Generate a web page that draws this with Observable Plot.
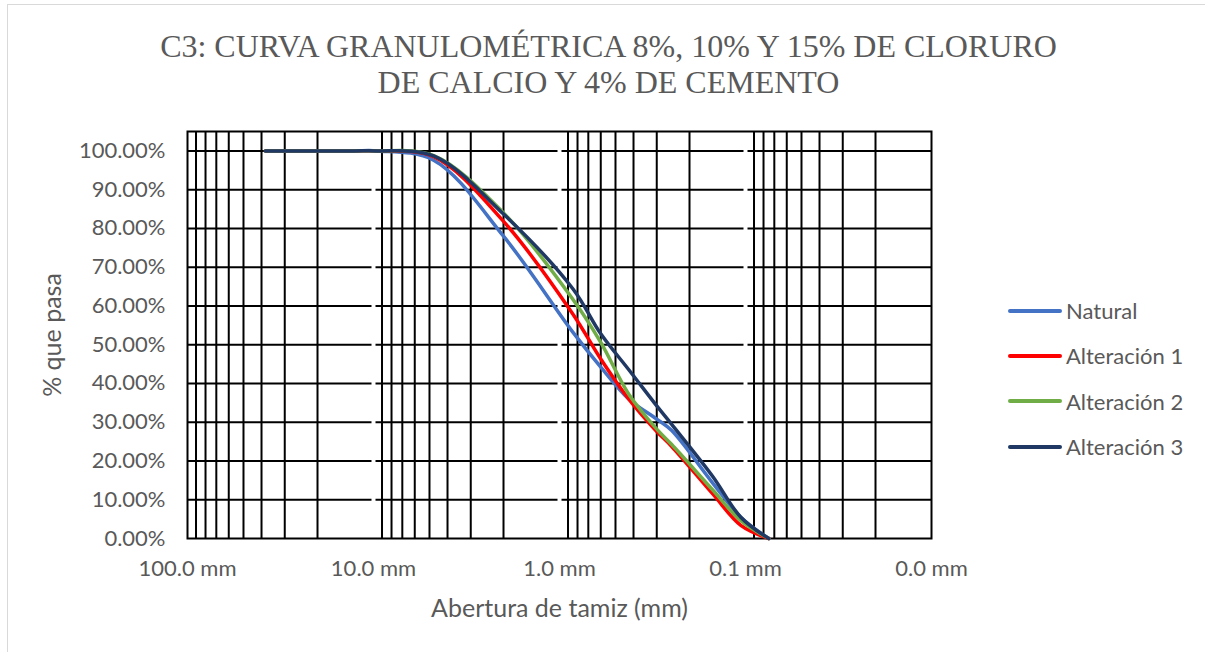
<!DOCTYPE html>
<html>
<head>
<meta charset="utf-8">
<script src="https://cdn.jsdelivr.net/npm/d3@7"></script>
<script src="https://cdn.jsdelivr.net/npm/@observablehq/plot@0.6"></script>
<style>
  html, body { margin: 0; padding: 0; background: #fff; }
  #wrap { position: relative; width: 1205px; height: 652px; overflow: hidden; background: #fff; }
  #border { position: absolute; left: 7px; top: 4px; width: 1240px; height: 700px; border: 1px solid #D9D9D9; box-sizing: border-box; }
  #title { position: absolute; left: 7px; top: 28px; width: 1203px; text-align: center;
           font-family: "Liberation Serif", "Times New Roman", serif; font-size: 32px; line-height: 36px; color: #595959; }
  #chart { position: absolute; left: 0; top: 0; }
  #legend { position: absolute; left: 1008px; top: 288px; font-family: Lato, "Open Sans", sans-serif; font-size: 22px; color: #595959; }
  .item { display: flex; align-items: center; height: 45.3px; }
  .swatch { width: 54px; height: 4px; border-radius: 2px; margin-right: 4px; }
</style>
</head>
<body>
<div id="wrap">
  <div id="border"></div>
  <div id="chart"></div>
  <div id="title">C3: CURVA GRANULOMÉTRICA 8%, 10% Y 15% DE CLORURO<br>DE CALCIO Y 4% DE CEMENTO</div>
  <div id="legend"></div>
</div>
<script>
// ---- data ----
const sizesMm   = [38.1, 25.4, 19.05, 12.7, 9.525, 4.75, 2.0, 0.85, 0.6, 0.425, 0.3, 0.25, 0.15, 0.106, 0.075];
const natural   = [100, 100, 100, 100, 100, 97.6, 78.0, 53.3, 44.2, 36.0, 30.8, 27.9, 14.3, 5.5, 0];
const alteracion1 = [100, 100, 100, 100, 100, 98.5, 81.8, 58.0, 46.3, 36.0, 27.6, 23.8, 11.5, 3.4, 0];
const alteracion2 = [100, 100, 100, 100, 100, 98.8, 84.0, 61.8, 50.6, 37.3, 28.2, 24.3, 12.5, 4.6, 0];
const alteracion3 = [100, 100, 100, 100, 100, 98.7, 83.7, 64.5, 52.8, 43.6, 34.2, 29.5, 16.0, 5.5, 0];

const seriesNames  = ["Natural", "Alteración 1", "Alteración 2", "Alteración 3"];
const seriesColors = ["#4472C4", "#FF0000", "#70AD47", "#203864"];

const xTickValues = [100, 10, 1, 0.1, 0.01];
const xTickLabels = ["100.0 mm", "10.0 mm", "1.0 mm", "0.1 mm", "0.0 mm"];
const yTickValues = [0, 10, 20, 30, 40, 50, 60, 70, 80, 90, 100];
const yTickLabels = ["0.00%", "10.00%", "20.00%", "30.00%", "40.00%", "50.00%", "60.00%", "70.00%", "80.00%", "90.00%", "100.00%"];
const minorMultipliers = [2, 3, 4, 5, 6, 7, 8, 9];
const gridDecades = [10, 1, 0.1, 0.01];

// ---- build ----
const seriesValues = [natural, alteracion1, alteracion2, alteracion3];
const rows = [];
seriesNames.forEach((name, s) => {
  sizesMm.forEach((size, i) => rows.push({serie: name, size, pct: seriesValues[s][i]}));
});
const minorGrid = [];
gridDecades.forEach(d => minorMultipliers.forEach(m => minorGrid.push(+(d * m).toPrecision(3))));
const innerDecades = xTickValues.slice(1, -1);
const yGrid = yTickValues.slice(1);

const chart = Plot.plot({
  width: 1205,
  height: 652,
  marginLeft: 187,
  marginRight: 274,
  marginTop: 131,
  marginBottom: 114,
  style: { fontFamily: "Lato, 'Open Sans', sans-serif", fontSize: "22px", color: "#595959", background: "transparent" },
  x: { type: "log", domain: [100, 0.01] },
  y: { domain: [0, 105] },
  color: { domain: seriesNames, range: seriesColors },
  marks: [
    Plot.ruleY(yGrid, { stroke: "#000", strokeWidth: 2 }),
    Plot.ruleX(minorGrid, { stroke: "#000", strokeWidth: 2 }),
    Plot.ruleX(innerDecades, { stroke: "#fff", strokeWidth: 4 }),
    Plot.frame({ stroke: "#000", strokeWidth: 2 }),
    Plot.axisX({ ticks: xTickValues, tickFormat: d => xTickLabels[xTickValues.indexOf(d)], tickSize: 0, tickPadding: 22, label: null }),
    Plot.axisX({ ticks: [], label: "Abertura de tamiz (mm)", labelAnchor: "center", labelOffset: 78, labelArrow: "none", fontSize: 25 }),
    Plot.axisY({ ticks: yTickValues, tickFormat: d => yTickLabels[yTickValues.indexOf(d)], tickSize: 0, tickPadding: 22, label: null }),
    Plot.axisY({ ticks: [], label: "% que pasa", labelAnchor: "center", labelOffset: 144, labelArrow: "none", fontSize: 25 }),
    Plot.line(rows, { x: "size", y: "pct", z: "serie", stroke: "serie", strokeWidth: 3.5, curve: "catmull-rom",
                      strokeLinecap: "round", strokeLinejoin: "round" })
  ]
});
document.getElementById("chart").appendChild(chart);

// legend
const legend = document.getElementById("legend");
seriesNames.forEach((name, i) => {
  const item = document.createElement("div");
  item.className = "item";
  const sw = document.createElement("span");
  sw.className = "swatch";
  sw.style.background = seriesColors[i];
  const tx = document.createElement("span");
  tx.textContent = name;
  item.appendChild(sw);
  item.appendChild(tx);
  legend.appendChild(item);
});
</script>
</body>
</html>
